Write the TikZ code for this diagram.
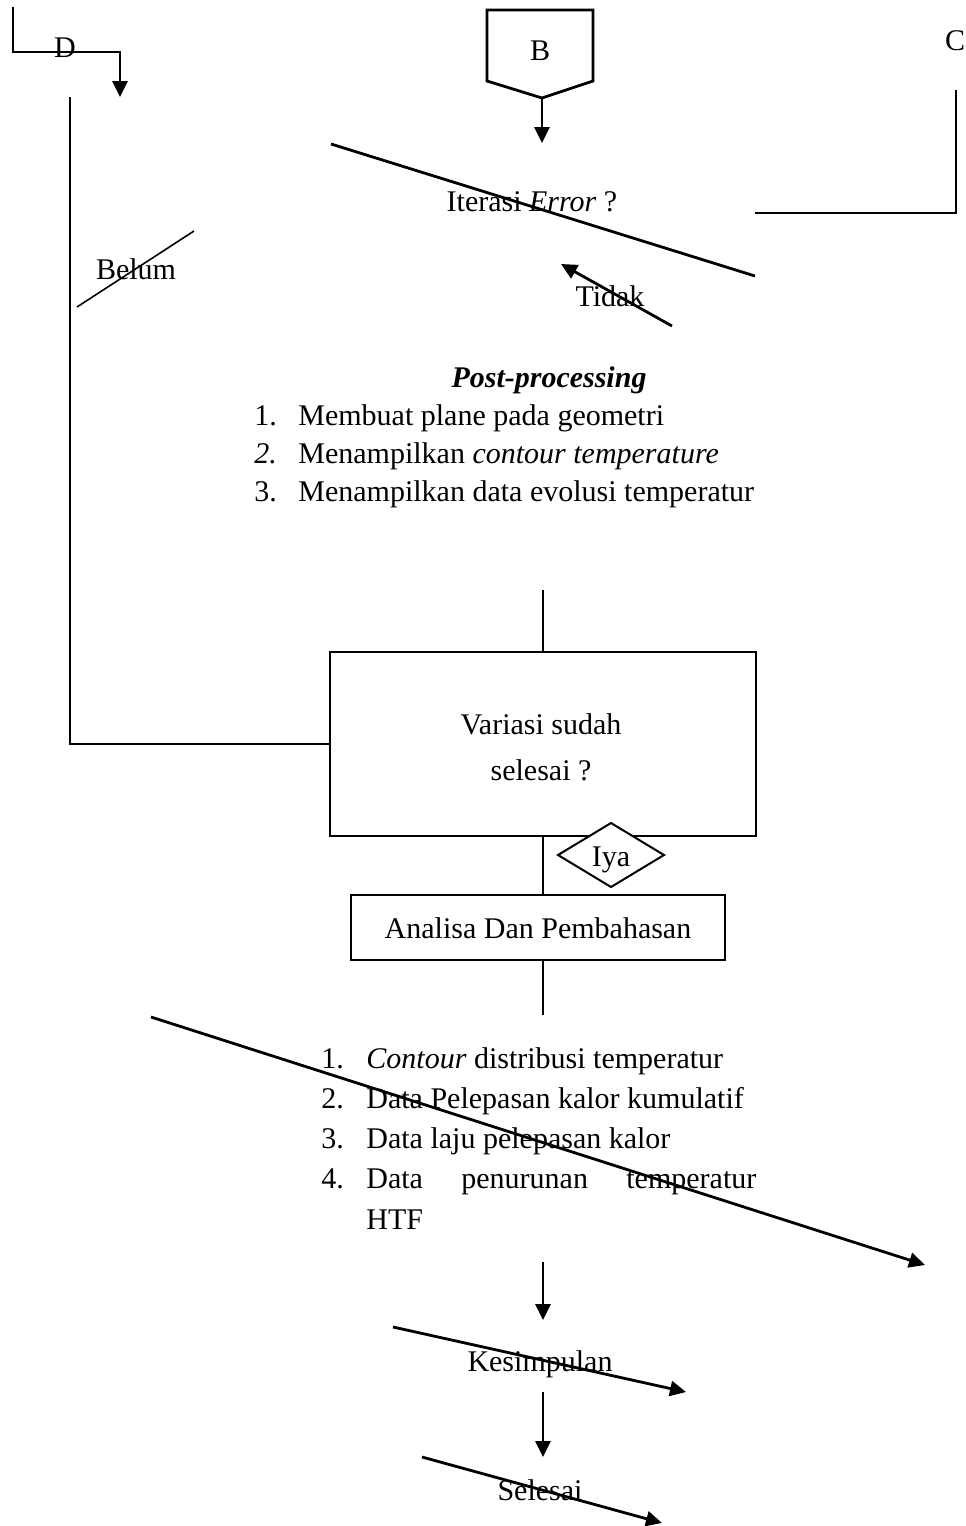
\documentclass[tikz,border=0pt]{standalone}
\usepackage{fontspec}
\setmainfont{Liberation Serif}
\usetikzlibrary{arrows.meta}
\begin{document}
\begin{tikzpicture}[x=1pt,y=-1pt,line width=2.8pt,
  font=\fontsize{30}{36}\selectfont, inner sep=0pt,
  arr/.style={-{Triangle[length=16pt,width=15pt]}},
  lbl/.style={anchor=base},
  lft/.style={anchor=base west},
  boxnode/.style={draw,line width=2.8pt}]
\useasboundingbox (0,0) rectangle (966,1526);
% top-left connector D
\coordinate (dtop) at (13,7);
\coordinate (dcorner) at (13,52);
\coordinate (dright) at (120,52);
\coordinate (dend) at (120,97);
\draw[arr] (dtop) -- (dcorner) -- (dright) -- (dend);
\node[lbl] (D) at (65,57) {D};
% B off-page connector
\coordinate (b1) at (487,10);
\coordinate (b2) at (593,10);
\coordinate (b3) at (593,81);
\coordinate (b4) at (542,98);
\coordinate (b5) at (487,81);
\draw (b1) -- (b2) -- (b3) -- (b4) -- (b5) -- cycle;
\node[lbl] (B) at (540,60) {B};
\coordinate (bend) at (542,143);
\draw[arr] (b4) -- (bend);
% C connector
\node[lbl] (C) at (955,50) {C};
\coordinate (ctop) at (956,90);
\coordinate (ccorner) at (956,213);
\coordinate (cleft) at (755,213);
\draw (ctop) -- (ccorner) -- (cleft);
% Iterasi
\node[lbl] (iter) at (532,211) {Iterasi \textit{Error} ?};
\coordinate (i1) at (331,144);
\coordinate (i2) at (755,276);
\draw (i1) -- (i2);
% Tidak
\node[lbl] (tidak) at (610,306) {Tidak};
\coordinate (t1) at (672,326);
\coordinate (t2) at (561,264);
\draw[arr] (t1) -- (t2);
% Belum
\node[lbl] (belum) at (136,279) {Belum};
\coordinate (bl1) at (77,307);
\coordinate (bl2) at (194,231);
\draw[line width=1.6pt] (bl1) -- (bl2);
% Post-processing
\node[lbl] (pp) at (549,387) {\textbf{\textit{Post-processing}}};
\node[lft] (pn1) at (253,425) {1.};
\node[lft] (pt1) at (297,425) {Membuat plane pada geometri};
\node[lft] (pn2) at (253,463) {\textit{2.}};
\node[lft] (pt2) at (297,463) {Menampilkan \textit{contour temperature}};
\node[lft] (pn3) at (253,501) {3.};
\node[lft] (pt3) at (297,501) {Menampilkan data evolusi temperatur};
% Variasi box
\coordinate (vtop) at (543,590);
\node[boxnode,minimum width=426pt,minimum height=184pt] (var) at (543,744) {};
\node[lbl] (var1) at (541,734) {Variasi sudah};
\node[lbl] (var2) at (541,780) {selesai ?};
\draw (vtop) -- (var.north);
\coordinate (lefttop) at (70,97);
\coordinate (leftbot) at (70,744);
\draw (lefttop) -- (leftbot) -- (var.west);
% Analisa box
\node[boxnode,minimum width=374pt,minimum height=65pt] (ana) at (538,927.5) {};
\node[lbl] (anat) at (538,938) {Analisa Dan Pembahasan};
\draw (var.south) -- (var.south |- ana.north);
% Iya diamond
\coordinate (d1) at (558,855);
\coordinate (d2) at (611,823);
\coordinate (d3) at (664,855);
\coordinate (d4) at (611,887);
\filldraw[fill=white,line width=2pt] (d1) -- (d2) -- (d3) -- (d4) -- cycle;
\node[lbl] (iya) at (611,866) {Iya};
% below Analisa
\coordinate (abot) at (543,1015);
\draw (var.south |- ana.south) -- (abot);
\coordinate (la1) at (151,1017);
\coordinate (la2) at (925,1265);
\draw[arr] (la1) -- (la2);
% result list
\node[lft] (rn1) at (320,1068) {1.};
\node[lft] (rt1) at (365,1068) {\textit{Contour} distribusi temperatur};
\node[lft] (rn2) at (320,1108) {2.};
\node[lft] (rt2) at (365,1108) {Data Pelepasan kalor kumulatif};
\node[lft] (rn3) at (320,1148) {3.};
\node[lft] (rt3) at (365,1148) {Data laju pelepasan kalor};
\node[lft] (rn4) at (320,1188) {4.};
\node[lft] (rt4a) at (365,1188) {Data};
\node[lft] (rt4b) at (460,1188) {penurunan};
\node[lft] (rt4c) at (625,1188) {temperatur};
\node[lft] (rt5) at (365,1229) {HTF};
% Kesimpulan
\coordinate (k0) at (543,1262);
\coordinate (k1) at (543,1320);
\draw[arr] (k0) -- (k1);
\node[lbl] (kes) at (540,1371) {Kesimpulan};
\coordinate (kl1) at (393,1327);
\coordinate (kl2) at (686,1392);
\draw[arr] (kl1) -- (kl2);
\coordinate (s0) at (543,1392);
\coordinate (s1) at (543,1457);
\draw[arr] (s0) -- (s1);
% Selesai
\node[lbl] (sel) at (540,1500) {Selesai};
\coordinate (sl1) at (422,1457);
\coordinate (sl2) at (662,1523);
\draw[arr] (sl1) -- (sl2);
\end{tikzpicture}
\end{document}
